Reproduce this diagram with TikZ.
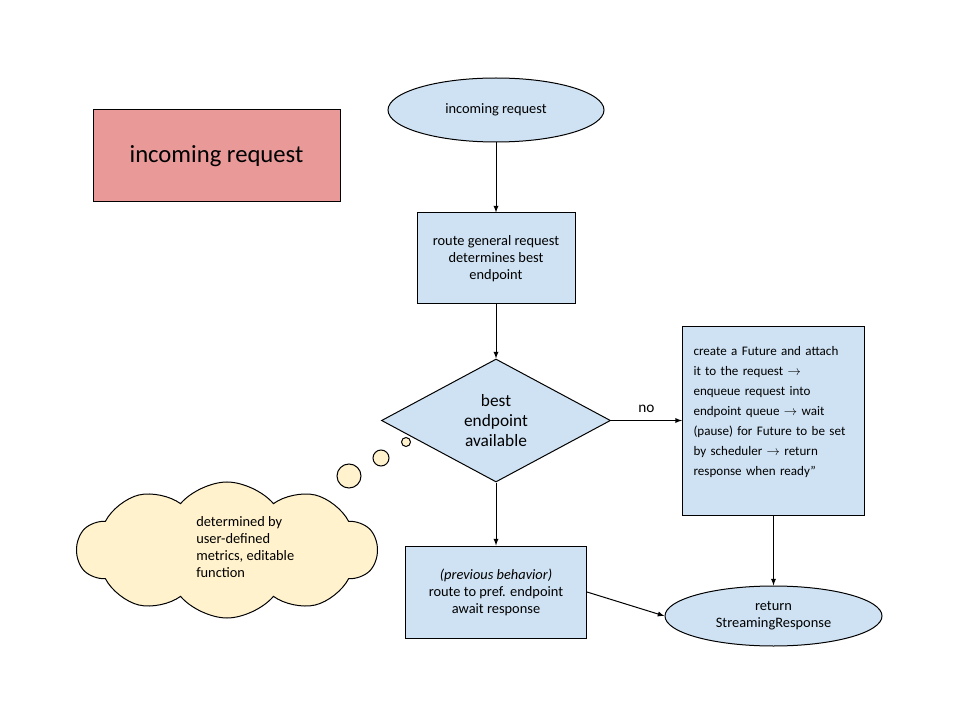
\documentclass[tikz,border=0pt]{standalone}
\usepackage{fontspec}
\setmainfont{Carlito}
\usetikzlibrary{positioning, shapes.geometric, shapes.symbols}
\definecolor{boxblue}{HTML}{CFE2F3}
\definecolor{notered}{HTML}{EA9999}
\definecolor{cloudyellow}{HTML}{FFF2CC}

\begin{document}
\begin{tikzpicture}[x=0.75pt, y=-0.75pt, font=\fontsize{10.8}{12.75}\selectfont, >=latex,
  flowbox/.style={rectangle, draw=black, fill=boxblue, line width=0.75pt, align=center, inner sep=0pt},
  terminal/.style={ellipse, draw=black, fill=boxblue, line width=0.75pt, align=center, inner sep=0pt},
  bubble/.style={circle, draw=black, fill=cloudyellow, line width=0.75pt, inner sep=0pt},
  flowline/.style={->, line width=0.75pt}]
%

%help grid and labels
%\draw[help lines] (0,0) grid[step=40] (960,720);

\useasboundingbox (0,0) rectangle (960,720);

%%% TITLE
\node [rectangle, draw=black, fill=notered, line width=0.75pt, minimum width=185.25pt, minimum height=69pt, font=\fontsize{18.5}{22}\selectfont] (title) at (216.5,156) {incoming request};

%%% MAIN FLOW
\node [terminal, minimum width=162pt, minimum height=48pt] (start) at (496,110) {incoming request};
\node [flowbox, minimum width=118.5pt, minimum height=68.25pt, below = 52.5pt of start] (routebox) {route general request\\
determines best\\
endpoint};
\node [diamond, draw=black, fill=boxblue, line width=0.75pt, aspect=1.86, inner sep=0pt, minimum width=171.75pt, minimum height=92.25pt, align=center, font=\fontsize{13}{15}\selectfont, below = 40.5pt of routebox] (check) {best\\
endpoint\\
available};

%%% NO BRANCH
\node [flowbox, minimum width=136.5pt, minimum height=141.75pt, inner xsep=8.25pt, text width=120pt, align=left, font=\fontsize{9.8}{15}\selectfont, right = 53.25pt of check] (futurebox) {create a Future and attach\\
it to the request $\rightarrow$\\
enqueue request into\\
endpoint queue $\rightarrow$ wait\\
(pause) for Future to be set\\
by scheduler $\rightarrow$ return\\
response when ready''\\
\mbox{}};

%%% PREVIOUS BEHAVIOR
\node [flowbox, minimum width=135.75pt, minimum height=69pt, below = 47.25pt of check] (prevbox) {\textit{(previous behavior)}\\
route to pref. endpoint\\
await response};

\node [terminal, minimum width=162.75pt, minimum height=45pt, below = 52.5pt of futurebox] (ret) {return\\
StreamingResponse};

%%% THOUGHT CLOUD
\node [cloud, cloud puffs=10, cloud puff arc=100, aspect=2.3, draw=black, fill=cloudyellow, line width=0.75pt, minimum width=225pt, minimum height=102pt] (cloud) at (227,550) {};
\node [align=left, anchor=west, inner sep=0pt] (cloudtext) at (196,547.5) {determined by\\
user-defined\\
metrics, editable\\
function};
\node [bubble, minimum size=18pt] (bubble3) at (349,476) {};
\node [bubble, minimum size=12pt] (bubble2) at (381,458) {};
\node [bubble, minimum size=6.75pt] (bubble1) at (406,442) {};

%%% connections, arrows
\draw [flowline] (start) -- (routebox);
\draw [flowline] (routebox) -- (check);
\draw [flowline] (check) -- node[above=2pt, font=\fontsize{11.5}{14}\selectfont] {no} (futurebox);
\draw [flowline] (check) -- (prevbox);
\draw [flowline] (futurebox) -- (ret);
\draw [flowline] (prevbox.east) -- (ret.west);

\end{tikzpicture}
\end{document}
